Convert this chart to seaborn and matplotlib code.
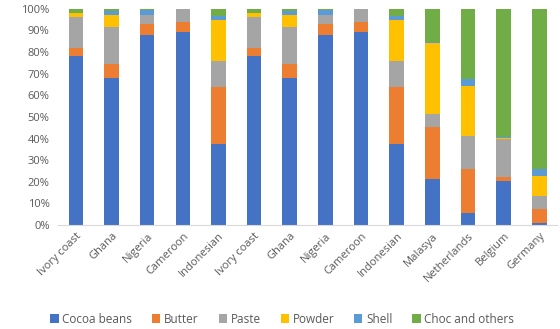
import matplotlib
matplotlib.use("Agg")
import matplotlib.pyplot as plt
import seaborn as sns
import numpy as np
import pandas as pd
from matplotlib.patches import Patch

countries = ["Ivory coast", "Ghana", "Nigeria", "Cameroon", "Indonesian",
             "Ivory coast", "Ghana", "Nigeria", "Cameroon", "Indonesian",
             "Malasya", "Netherlands", "Belgium", "Germany"]

cocoa_beans = [78.3, 68.2, 87.9, 89.5, 37.7, 78.3, 68.2, 87.9, 89.5, 37.7, 21.2, 5.7, 20.5, 1.1]
butter      = [3.6, 6.2, 5.1, 4.3, 26.2, 3.6, 6.2, 5.1, 4.3, 26.2, 24.2, 20.3, 1.7, 6.3]
paste       = [14.5, 17.4, 4.2, 6.2, 11.8, 14.5, 17.4, 4.2, 6.2, 11.8, 6.2, 15.4, 17.6, 6.2]
powder      = [1.6, 5.6, 0.0, 0.0, 19.2, 1.6, 5.6, 0.0, 0.0, 19.2, 32.4, 22.9, 0.4, 8.9]
shell       = [0.0, 1.8, 2.3, 0.0, 1.7, 0.0, 1.8, 2.3, 0.0, 1.7, 0.5, 3.1, 0.4, 3.4]
choc        = [2.0, 0.8, 0.5, 0.0, 3.4, 2.0, 0.8, 0.5, 0.0, 3.4, 15.5, 32.6, 59.4, 74.1]

series_names = ["Cocoa beans", "Butter", "Paste", "Powder", "Shell", "Choc and others"]
series_vals = [cocoa_beans, butter, paste, powder, shell, choc]
colors = ["#4472C4", "#ED7D31", "#A5A5A5", "#FFC000", "#5B9BD5", "#70AD47"]

plt.rcParams['font.family'] = ['Open Sans', 'DejaVu Sans']

fig = plt.figure(figsize=(5.6, 3.29), dpi=100)
ax = fig.add_axes([0.1036, 0.316, 0.8914, 0.657])

pos = list(range(len(countries)))
bottom = np.zeros(len(countries))
for name, vals, col in zip(series_names, series_vals, colors):
    df = pd.DataFrame({"x": pos, "y": np.array(vals) / 100.0})
    sns.barplot(data=df, x="x", y="y", color=col, bottom=bottom / 100.0,
                width=0.41, ax=ax, saturation=1, linewidth=0, errorbar=None)
    bottom += np.array(vals)

ax.set_xlim(-0.5, len(countries) - 0.5)
ax.set_ylim(0, 1.0)
ax.set_yticks(np.arange(0, 1.01, 0.1))
ax.set_yticklabels([f"{int(round(v*100))}%" for v in np.arange(0, 1.01, 0.1)],
                   fontsize=8, color="#595959")
ax.set_xticks(pos)
ax.set_xticklabels(countries, rotation=45, ha="right", rotation_mode="anchor",
                   fontsize=8, color="#595959")
ax.set_xlabel("")
ax.set_ylabel("")
for s in ["top", "right", "left"]:
    ax.spines[s].set_visible(False)
ax.spines["bottom"].set_color("#D9D9D9")
ax.tick_params(axis="both", length=0)
ax.tick_params(axis="y", pad=6)
ax.tick_params(axis="x", pad=4)

handles = [Patch(facecolor=c, edgecolor="none") for c in colors]
fig.legend(handles, series_names, loc="center", bbox_to_anchor=(0.504, 0.030),
           ncol=6, frameon=False, fontsize=8.5, handlelength=0.7, handleheight=0.7,
           handletextpad=0.3, columnspacing=1.7, labelcolor="#595959")

fig.savefig("out.png", dpi=100)
